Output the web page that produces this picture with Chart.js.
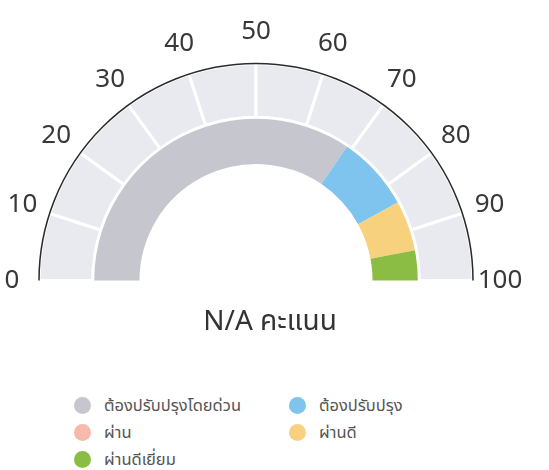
<!DOCTYPE html>
<html>
<head>
<meta charset="utf-8">
<script src="https://cdn.jsdelivr.net/npm/chart.js@4"></script>
<style>
  body { margin: 0; background: #fff; width: 549px; height: 470px; overflow: hidden; position: relative;
         font-family: "Noto Sans Thai", "Noto Sans", "DejaVu Sans", sans-serif; }
  #wrap { position: absolute; left: 0; top: 0; width: 549px; height: 380px; }
  #legend { position: absolute; left: 74px; top: 394px; display: grid;
            grid-template-columns: 215px 200px; row-gap: 5px; }
  .item { display: flex; align-items: center; height: 22px; font-size: 16.5px; color: #555; }
  .dot { width: 17px; height: 17px; border-radius: 50%; margin-right: 13px; flex: none; }
</style>
</head>
<body>
<div id="wrap"><canvas id="gauge"></canvas></div>
<div id="legend"></div>
<script>
// gauge scale
const tickLabels = ['0', '10', '20', '30', '40', '50', '60', '70', '80', '90', '100'];
const scaleSteps = [10, 10, 10, 10, 10, 10, 10, 10, 10, 10];

// score bands
const bandNames = ['ต้องปรับปรุงโดยด่วน', 'ต้องปรับปรุง', 'ผ่าน', 'ผ่านดี', 'ผ่านดีเยี่ยม'];
const bandValues = [69, 15, 0, 10, 6];
const bandColors = ['#c6c6ce', '#7ec4ee', '#f7b9a9', '#f8d17f', '#8bbd45'];

const scoreText = 'N/A คะแนน';

const gaugeDecor = {
  id: 'gaugeDecor',
  afterDatasetsDraw(chart) {
    const arc = chart.getDatasetMeta(0).data[0];
    if (!arc) return;
    const { x, y, outerRadius } = arc.getProps(['x', 'y', 'outerRadius'], true);
    const ctx = chart.ctx;
    ctx.save();

    // outer rim
    ctx.beginPath();
    ctx.arc(x, y, outerRadius, Math.PI, 2 * Math.PI);
    ctx.strokeStyle = '#2b2b2b';
    ctx.lineWidth = 1.5;
    ctx.stroke();

    // tick labels
    const max = scaleSteps.reduce((a, b) => a + b, 0);
    ctx.fillStyle = '#383838';
    ctx.font = '26px "Noto Sans", "Open Sans", sans-serif';
    ctx.textAlign = 'center';
    ctx.textBaseline = 'middle';
    tickLabels.forEach(t => {
      const a = Math.PI + (Number(t) / max) * Math.PI;
      // labels sit a little further out near the top
      const r = outerRadius + 27 + 5 * Math.abs(Math.sin(a));
      ctx.fillText(t, x + r * Math.cos(a), y + r * Math.sin(a));
    });

    // score text
    ctx.fillStyle = '#333';
    ctx.font = '28px "Noto Sans Thai", "Noto Sans", sans-serif';
    ctx.fillText(scoreText, x + 14, y + 44);
    ctx.restore();
  }
};

new Chart(document.getElementById('gauge'), {
  type: 'doughnut',
  data: {
    labels: bandNames,
    datasets: [
      {
        data: scaleSteps,
        backgroundColor: '#e8eaf0',
        borderColor: '#ffffff',
        borderWidth: 3,
        weight: 54
      },
      {
        data: bandValues,
        backgroundColor: bandColors,
        borderWidth: 0,
        weight: 47
      }
    ]
  },
  options: {
    responsive: true,
    maintainAspectRatio: false,
    animation: false,
    rotation: -90,
    circumference: 180,
    cutout: '53.7%',
    hoverOffset: 0,
    layout: { padding: { left: 36, right: 73, top: 62, bottom: 98 } },
    plugins: {
      legend: { display: false },
      tooltip: { enabled: false }
    }
  },
  plugins: [gaugeDecor]
});

// legend
const legend = document.getElementById('legend');
legend.innerHTML = bandNames.map((name, i) => `
  <div class="item"><span class="dot" style="background:${bandColors[i]}"></span>${name}</div>
`).join('');
</script>
</body>
</html>
